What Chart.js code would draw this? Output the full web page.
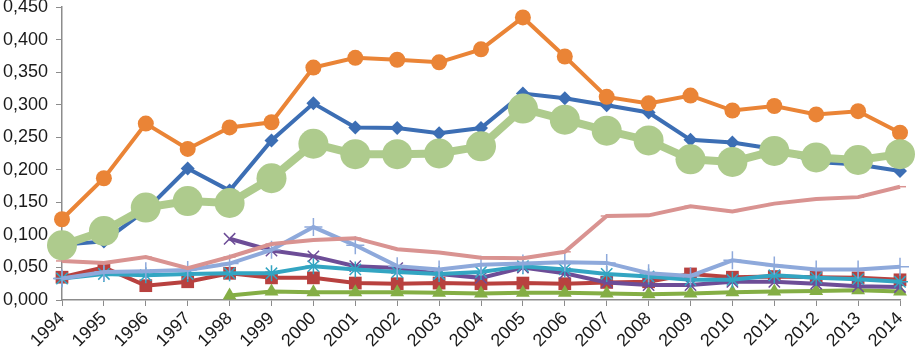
<!DOCTYPE html>
<html>
<head>
<meta charset="utf-8">
<script src="https://cdn.jsdelivr.net/npm/chart.js@4.4.1/dist/chart.umd.min.js"></script>
<style>
  html, body { margin: 0; padding: 0; background: #ffffff; }
  #wrap { width: 916px; height: 353px; position: relative; }
</style>
</head>
<body>
<div id="wrap"><canvas id="c"></canvas></div>
<script>
const years = ['1994','1995','1996','1997','1998','1999','2000','2001','2002','2003','2004','2005','2006','2007','2008','2009','2010','2011','2012','2013','2014'];

const seriesBlue   = [0.085, 0.090, 0.138, 0.202, 0.168, 0.245, 0.302, 0.265, 0.264, 0.256, 0.264, 0.317, 0.310, 0.299, 0.288, 0.246, 0.242, 0.232, 0.212, 0.208, 0.198];
const seriesRed    = [0.035, 0.050, 0.022, 0.028, 0.041, 0.034, 0.034, 0.026, 0.025, 0.026, 0.025, 0.026, 0.025, 0.027, 0.028, 0.040, 0.035, 0.036, 0.035, 0.034, 0.031];
const seriesGreen  = [null, null, null, null, 0.007, 0.013, 0.012, 0.012, 0.012, 0.011, 0.010, 0.011, 0.011, 0.010, 0.009, 0.010, 0.012, 0.013, 0.014, 0.015, 0.013];
const seriesPurple = [null, null, null, null, 0.094, 0.076, 0.067, 0.052, 0.049, 0.040, 0.034, 0.050, 0.041, 0.027, 0.023, 0.023, 0.028, 0.028, 0.025, 0.021, 0.020];
const seriesCyan   = [0.033, 0.040, 0.038, 0.040, 0.041, 0.041, 0.052, 0.047, 0.043, 0.040, 0.043, 0.052, 0.047, 0.040, 0.036, 0.031, 0.031, 0.038, 0.034, 0.032, 0.028];
const seriesOrange = [0.124, 0.187, 0.271, 0.232, 0.265, 0.273, 0.357, 0.372, 0.369, 0.365, 0.385, 0.434, 0.374, 0.312, 0.302, 0.314, 0.291, 0.298, 0.285, 0.290, 0.257];
const seriesLightBlue = [0.033, 0.043, 0.044, 0.046, 0.056, 0.077, 0.112, 0.084, 0.052, 0.047, 0.054, 0.056, 0.058, 0.057, 0.041, 0.037, 0.061, 0.053, 0.047, 0.047, 0.051];
const seriesPink   = [0.060, 0.057, 0.066, 0.049, 0.066, 0.086, 0.092, 0.095, 0.078, 0.073, 0.065, 0.064, 0.074, 0.129, 0.130, 0.144, 0.136, 0.148, 0.155, 0.158, 0.174];
const seriesLightGreen = [0.084, 0.106, 0.142, 0.152, 0.149, 0.187, 0.240, 0.224, 0.224, 0.225, 0.236, 0.294, 0.277, 0.260, 0.245, 0.216, 0.212, 0.229, 0.219, 0.215, 0.224];

const yMin = 0, yMax = 0.45, yStep = 0.05;

const specs = [
  { data: seriesBlue,       color: '#3C6EB4', style: 'rectRot',  r: 7,  w: 4 },
  { data: seriesRed,        color: '#B8413F', style: 'rect',     r: 9,  w: 4 },
  { data: seriesGreen,      color: '#84AE45', style: 'triangle', r: 8,  w: 4 },
  { data: seriesPurple,     color: '#6D4D97', style: 'crossRot', r: 8,  w: 4 },
  { data: seriesCyan,       color: '#33A5C2', style: 'star',     r: 8,  w: 4 },
  { data: seriesOrange,     color: '#EA8436', style: 'circle',   r: 8,  w: 4 },
  { data: seriesLightBlue,  color: '#8EA9DB', style: 'cross',    r: 9,  w: 4 },
  { data: seriesPink,       color: '#D99391', style: 'line',     r: 6,  w: 4 },
  { data: seriesLightGreen, color: '#AECB8D', style: 'circle',   r: 15, w: 8 }
];

const datasets = specs.map((s, i) => ({
  label: 'S' + (i + 1),
  data: s.data,
  borderColor: s.color,
  backgroundColor: s.color,
  borderWidth: s.w,
  pointStyle: s.style,
  pointRadius: s.r,
  pointBorderWidth: (s.style === 'crossRot' || s.style === 'star' || s.style === 'cross' || s.style === 'line') ? 1.5 : 0,
  pointBackgroundColor: s.color,
  pointBorderColor: s.color,
  tension: 0,
  order: specs.length - i,
  spanGaps: false,
  clip: 20
}));

const axisColor = '#8c8c8c';
const tickFont = { family: "'Liberation Sans', Arial, sans-serif", size: 18 };

new Chart(document.getElementById('c'), {
  type: 'line',
  data: { labels: years, datasets },
  options: {
    responsive: true,
    maintainAspectRatio: false,
    animation: false,
    layout: { autoPadding: false, padding: { top: 7, right: 16, left: 0, bottom: 0 } },
    plugins: { legend: { display: false }, tooltip: { enabled: false } },
    scales: {
      x: {
        type: 'category',
        offset: false,
        grid: { display: true, drawOnChartArea: false, drawTicks: true, tickLength: 6, color: axisColor },
        border: { display: true, color: axisColor, width: 1.5 },
        ticks: { color: '#1a1a1a', font: tickFont, minRotation: 45, maxRotation: 45, autoSkip: false, padding: 2 },
        afterFit: (s) => { s.height = 53; s.paddingLeft = 0; s.paddingRight = 0; }
      },
      y: {
        min: yMin, max: yMax,
        grid: { display: true, drawOnChartArea: false, drawTicks: true, tickLength: 6, color: axisColor },
        border: { display: true, color: axisColor, width: 1.5 },
        ticks: {
          stepSize: yStep, color: '#1a1a1a', font: tickFont, padding: 8,
          callback: (v) => Number(v).toFixed(3).replace('.', ',')
        },
        afterFit: (s) => { s.width = 62; s.paddingTop = 0; s.paddingBottom = 0; }
      }
    }
  }
});
</script>
</body>
</html>
